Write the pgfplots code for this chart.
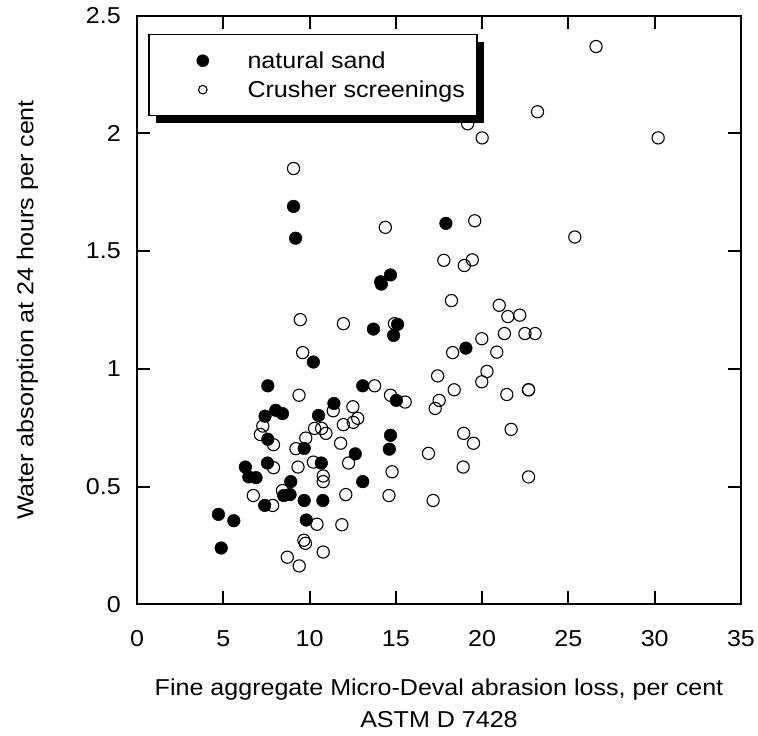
\documentclass[border=0pt]{standalone}
\usepackage{fontspec}
\setmainfont{Liberation Sans}[FakeStretch=1.09]
\usepackage{pgfplots}
\pgfplotsset{compat=1.18}
\usetikzlibrary{shadows}
\pgfplotsset{
  leg filled/.style={legend image code/.code={\path (-41pt,0pt) (44pt,0pt); \draw[##1, mark size=6pt] plot coordinates {(0pt,0pt)};}},
  leg open/.style={legend image code/.code={\path (-41pt,0pt) (44pt,0pt); \draw[##1, mark size=4.3pt] plot coordinates {(0pt,0pt)};}},
}
\pgfplotstableread{
x y
9.07 1.69
9.19 1.555
17.90 1.618
14.69 1.399
14.12 1.37
14.16 1.36
13.70 1.169
15.10 1.189
14.87 1.142
19.06 1.088
10.22 1.029
7.58 0.928
13.08 0.928
15.03 0.866
11.41 0.853
8.04 0.824
8.43 0.810
7.42 0.799
10.52 0.802
7.58 0.701
14.69 0.718
9.69 0.662
14.62 0.659
12.65 0.639
10.68 0.600
7.56 0.600
6.28 0.583
6.48 0.541
6.90 0.538
8.91 0.521
13.08 0.521
8.50 0.462
8.87 0.466
7.40 0.420
9.69 0.441
10.77 0.441
4.72 0.382
5.61 0.355
9.81 0.358
4.88 0.239
}\natural
\pgfplotstableread{
x y
26.60 2.369
23.21 2.092
19.16 2.041
20.00 1.981
30.20 1.981
9.07 1.851
19.57 1.629
14.39 1.601
25.37 1.560
17.78 1.461
19.43 1.463
18.97 1.439
18.22 1.290
20.99 1.270
21.49 1.222
22.18 1.228
9.46 1.209
11.96 1.192
14.92 1.192
21.29 1.150
22.48 1.150
23.07 1.150
19.98 1.128
18.29 1.069
20.85 1.071
9.60 1.069
20.28 0.989
17.42 0.970
19.98 0.945
13.77 0.928
18.38 0.911
22.69 0.911
22.69 0.911
21.43 0.891
9.39 0.888
14.69 0.888
15.54 0.859
17.51 0.866
17.28 0.832
12.51 0.839
11.37 0.822
12.79 0.790
12.53 0.773
11.96 0.763
7.29 0.757
7.15 0.721
10.29 0.747
10.70 0.747
10.95 0.726
21.68 0.743
9.78 0.706
7.91 0.678
11.80 0.684
18.93 0.726
19.50 0.684
16.89 0.641
9.21 0.661
10.22 0.604
12.26 0.600
7.91 0.580
9.33 0.583
14.78 0.563
18.90 0.583
10.79 0.545
10.79 0.521
22.69 0.541
6.74 0.462
8.43 0.483
7.86 0.420
12.10 0.466
14.60 0.462
17.16 0.441
10.43 0.340
11.87 0.338
9.67 0.272
9.76 0.259
10.79 0.222
8.71 0.200
9.40 0.163
}\crusher
\begin{document}
\begin{tikzpicture}
\begin{axis}[
  at={(0pt,0pt)}, anchor=south west,
  scale only axis, width=604pt, height=588.6pt,
  xmin=0, xmax=35, ymin=0, ymax=2.5,
  xtick={0,5,...,35}, ytick={0,0.5,1,1.5,2,2.5},
  xtick pos=both, ytick pos=both,
  xticklabel pos=lower, yticklabel pos=left,
  tick align=inside,
  major tick length=13pt,
  major tick style={black, line width=2pt},
  axis line style={line width=2pt},
  /pgf/number format/assume math mode=true,
  tick label style={font=\fontsize{23}{27}\selectfont, inner sep=0pt},
  xticklabel style={anchor=north},
  yticklabel style={anchor=east},
  xticklabel shift=25.7pt,
  yticklabel shift=16pt,
  xlabel={Fine aggregate Micro-Deval abrasion loss, per cent\\ASTM D 7428},
  xlabel style={at={(axis description cs:0.5,-0.1256)}, anchor=north, align=center, inner sep=0pt, font=\fontsize{23}{32}\selectfont},
  ylabel={Water absorption at 24 hours per cent},
  ylabel style={at={(axis description cs:-0.1717,0.5)}, anchor=base, inner sep=0pt, font=\fontsize{23}{27}\selectfont},
  legend cell align=left,
  legend style={at={(axis description cs:0.0187,0.969)}, anchor=north west,
    draw=black, line width=1.5pt, fill=white,
    inner xsep=12pt, inner ysep=16pt, row sep=9pt,
    font=\fontsize{23}{27}\selectfont,
    nodes={inner sep=0pt, text height=18pt, text depth=2pt},
    /tikz/every even column/.style={column sep=0pt},
    drop shadow={shadow xshift=7pt, shadow yshift=-7pt, fill=black, opacity=1}},
]
\addplot[only marks, mark=*, mark size=6.3pt, mark options={draw=black, fill=black, line width=0.5pt}, leg filled]
  table[x=x, y=y] {\natural};
\addlegendentry{natural sand}
\addplot[only marks, mark=o, mark size=6.1pt, mark options={draw=black, line width=1.1pt}, leg open]
  table[x=x, y=y] {\crusher};
\addlegendentry{Crusher screenings}
\end{axis}
\pgfresetboundingbox
\path[use as bounding box] (-137pt,-131.7pt) rectangle (621pt,604.3pt);
\end{tikzpicture}
\end{document}
